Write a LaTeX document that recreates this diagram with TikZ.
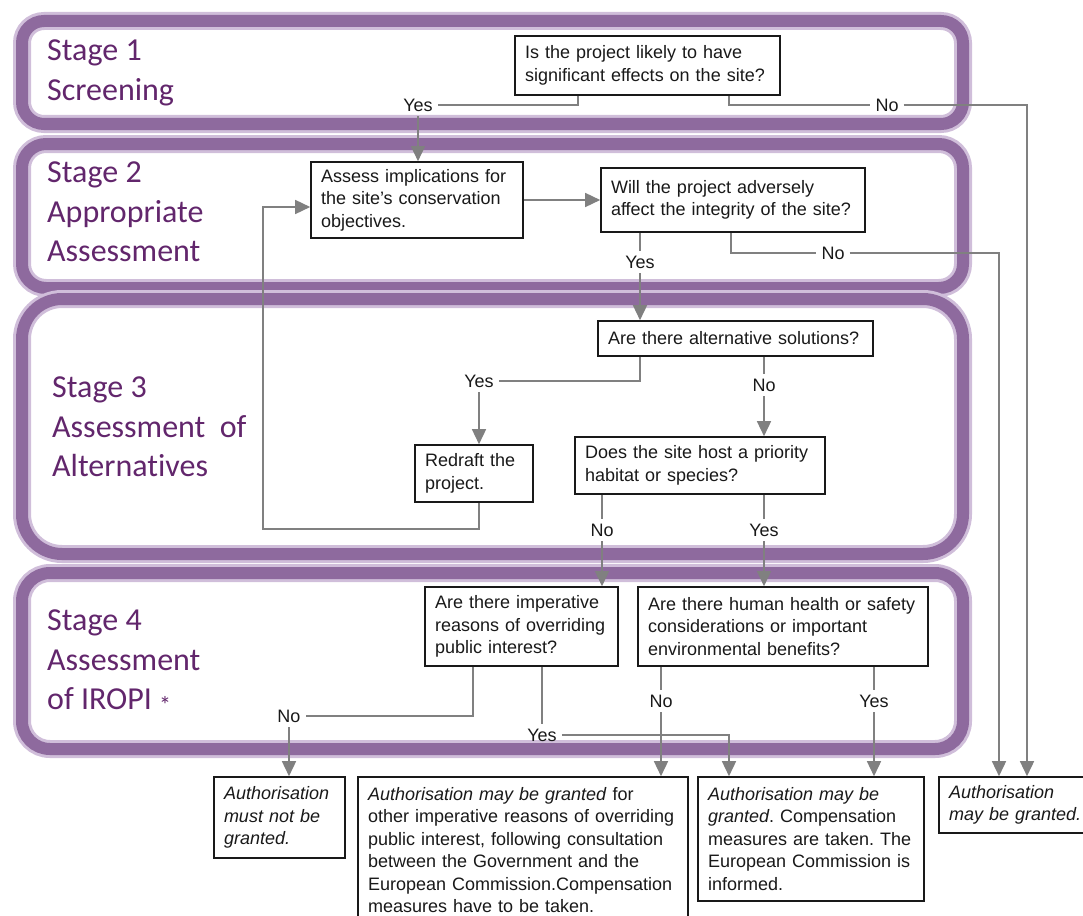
\documentclass[tikz,border=0pt]{standalone}
\usepackage{fontspec}
\setmainfont{Liberation Sans}
\newfontfamily\stagefont[Ligatures=NoCommon]{Carlito}
\usetikzlibrary{arrows.meta}
\definecolor{bandpurple}{RGB}{142,106,158}
\definecolor{bandglow}{RGB}{208,190,218}
\definecolor{stagepurple}{RGB}{98,38,108}
\definecolor{linegray}{RGB}{128,128,128}
\definecolor{boxtext}{RGB}{25,25,25}
\frenchspacing

\begin{document}
\begin{tikzpicture}[x=1pt, y=-1pt,
	band/.style={preaction={draw=bandglow, line width=18pt},
				 draw=bandpurple, line width=12pt},
	stage/.style={anchor=west, inner sep=0pt, align=left,
				  text=stagepurple,
				  font=\stagefont\fontsize{32}{39.5}\selectfont},
	box/.style={draw=boxtext, line width=1.6pt, fill=white,
				align=left, inner xsep=10pt, inner ysep=0pt,
				text=boxtext, font=\fontsize{18}{22.5}\selectfont},
	lbl/.style={inner sep=5pt, text=boxtext,
				font=\fontsize{18}{20}\selectfont},
	conn/.style={draw=linegray, line width=1.5pt},
	arr/.style={conn, -{Triangle[width=14pt, length=15pt]}}]
	\useasboundingbox (0,0) rectangle (1083,915);
	\clip (0,0) rectangle (1083,915);

	% stage frames
	\draw[band, rounded corners=22pt] (22,21) rectangle (963,124);
	\draw[band, rounded corners=24pt] (22,144) rectangle (963,288);
	\draw[band, rounded corners=40pt] (22,299) rectangle (963,554);
	\draw[band, rounded corners=28pt] (22,573) rectangle (963,749);

	\draw (47,73) node[stage](st1){Stage 1\\Screening};
	\draw (47,212) node[stage](st2){Stage 2\\Appropriate\\Assessment};
	\draw (52,427) node[stage](st3){Stage 3\\Assessment\ \ of\\Alternatives};
	\draw (47,662) node[stage](st4){Stage 4\\Assessment\\of IROPI \raisebox{-4pt}{\fontsize{24}{24}\selectfont *}};

	% questions
	\draw (647.5,65.5) node[box, text width=245pt, minimum height=59pt](q1){Is the project likely to have\\significant effects on the site?};
	\draw (417,200) node[box, text width=192pt, minimum height=76pt](assess){Assess implications for\\the site's conservation\\objectives.};
	\draw (733,200) node[box, text width=244pt, minimum height=64pt](q2){Will the project adversely\\affect the integrity of the site?};
	\draw (735.5,338.5) node[box, text width=255pt, minimum height=35pt](q3){Are there alternative solutions?};
	\draw (474,473.5) node[box, text width=98pt, minimum height=57pt](redraft){Redraft the\\project.};
	\draw (700,465.5) node[box, text width=230pt, minimum height=57pt](q4){Does the site host a priority\\habitat or species?};
	\draw (521.5,626.5) node[box, text width=173pt, minimum height=79pt](q5){Are there imperative\\reasons of overriding\\public interest?};
	\draw (783,626.5) node[box, text width=270pt, minimum height=79pt](q6){Are there human health or safety\\considerations or important\\environmental benefits?};

	% outcomes
	\draw (279.5,817.5) node[box, text width=111pt, minimum height=81pt](e1){\textit{Authorisation}\\\textit{must not be}\\\textit{granted.}};
	\draw (523,850) node[box, text width=310pt, minimum height=146pt](e2){\textit{Authorisation may be granted} for\\other imperative reasons of overriding\\public interest, following consultation\\between the Government and the\\European Commission.Compensation\\measures have to be taken.};
	\draw (811,839) node[box, text width=206pt, minimum height=124pt](e3){\textit{Authorisation may be}\\\textit{granted}. Compensation\\measures are taken. The\\European Commission is\\informed.};
	\draw (1019,805) node[box, text width=140pt, minimum height=56pt](e4){\textit{Authorisation}\\\textit{may be granted.}};

	% yes / no labels
	\draw (418,105) node[lbl](yes1){Yes};
	\draw (887,105) node[lbl](no1){No};
	\draw (833,253) node[lbl](no2){No};
	\draw (640,262) node[lbl](yes2){Yes};
	\draw (479,381) node[lbl](yes3){Yes};
	\draw (764,385) node[lbl](no3){No};
	\draw (602,530) node[lbl](no4){No};
	\draw (764,530) node[lbl](yes4){Yes};
	\draw (289,716) node[lbl](no5){No};
	\draw (542,735) node[lbl](yes5){Yes};
	\draw (661,701) node[lbl](no6){No};
	\draw (874,701) node[lbl](yes6){Yes};
	\coordinate (loop) at (263,529);

	% connectors
	\draw[conn] ([xshift=-69.5pt]q1.south) |- (yes1);
	\draw[arr] (yes1) -- (assess.north -| yes1);
	\draw[conn] ([xshift=81.5pt]q1.south) |- (no1);
	\draw[arr] (no1) -| ([xshift=8pt]e4.north);
	\draw[arr] (assess) -- (q2);
	\draw[conn] ([xshift=-2pt]q2.south) |- (no2);
	\draw[arr] (no2) -| ([xshift=-20pt]e4.north);
	\draw[conn] ([xshift=-93pt]q2.south) -- (yes2);
	\draw[arr] (yes2) -- (q3.north -| yes2);
	\draw[conn] ([xshift=-95.5pt]q3.south) |- (yes3);
	\draw[arr] (yes3) -- (redraft.north -| yes3);
	\draw[conn] ([xshift=28.5pt]q3.south) -- (no3);
	\draw[arr] (no3) -- (q4.north -| no3);
	\draw[arr] (redraft.south -| yes3) |- (loop) |- ([yshift=-7pt]assess.west);
	\draw[conn] ([xshift=-98pt]q4.south) -- (no4);
	\draw[arr] (no4) -- (q5.north -| no4);
	\draw[conn] ([xshift=64pt]q4.south) -- (yes4);
	\draw[arr] (yes4) -- (q6.north -| yes4);
	\draw[conn] ([xshift=-48.5pt]q5.south) |- (no5);
	\draw[arr] (no5) -- (e1.north -| no5);
	\draw[conn] ([xshift=20.5pt]q5.south) -- (yes5);
	\draw[arr] (yes5) -| ([xshift=-82pt]e3.north);
	\draw[conn] ([xshift=-122pt]q6.south) -- (no6);
	\draw[arr] (no6) -- (e2.north -| no6);
	\draw[conn] ([xshift=91pt]q6.south) -- (yes6);
	\draw[arr] (yes6) -- (e3.north -| yes6);
\end{tikzpicture}
\end{document}
